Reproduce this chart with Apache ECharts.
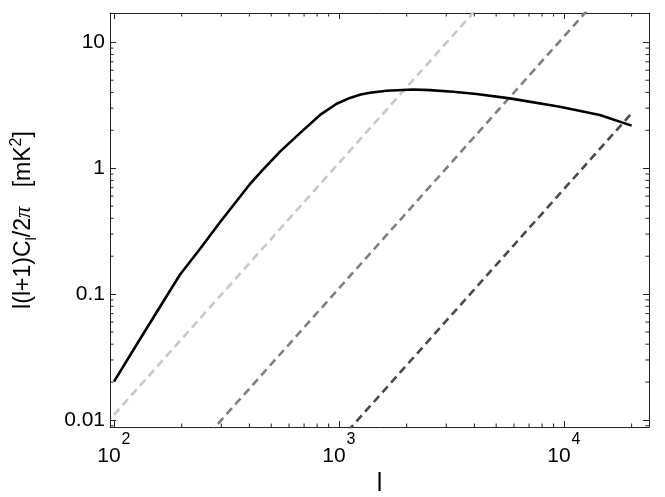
<!DOCTYPE html>
<html>
<head>
<meta charset="utf-8">
<script src="https://cdn.jsdelivr.net/npm/echarts/dist/echarts.min.js"></script>
<style>
  html, body { margin: 0; padding: 0; background: #fff; }
  #chart { width: 665px; height: 497px; }
</style>
</head>
<body>
<div id="chart"></div>
<script>
// solid curve: multipole l and l(l+1)C_l/2pi [mK^2]
var signalL = [100, 130, 196, 241, 296, 400, 453, 547, 671, 824, 977, 1119, 1250, 1374, 1629, 2138, 2535, 3220, 4090, 5750, 9590, 14450, 20000];
var signalV = [0.0202, 0.0434, 0.142, 0.228, 0.372, 0.74, 0.95, 1.355, 1.90, 2.65, 3.25, 3.62, 3.85, 3.98, 4.13, 4.22, 4.17, 4.05, 3.89, 3.59, 3.08, 2.65, 2.18];
// dashed noise lines (straight in log-log), end points
var noiseL = [100, 20000];
var noiseLight = [0.011, 440];
var noiseMid = [0.00111, 44.4];
var noiseDark = [0.000068, 2.73];
// ticks
var xMinor = [200, 300, 400, 500, 600, 700, 800, 900, 2000, 3000, 4000, 5000, 6000, 7000, 8000, 9000, 20000];
var yMinor = [0.009, 0.02, 0.03, 0.04, 0.05, 0.06, 0.07, 0.08, 0.09, 0.2, 0.3, 0.4, 0.5, 0.6, 0.7, 0.8, 0.9, 2, 3, 4, 5, 6, 7, 8, 9];
var yLabels = {'-2': '0.01', '-1': '0.1', '0': '1', '1': '10'};

var xMin = 96, xMax = 23900, yMin = 0.0088, yMax = 17.1;

function pairs(xs, ys) {
    var out = [];
    for (var i = 0; i < xs.length; i++) out.push([xs[i], ys[i]]);
    return out;
}
function decade(v) {
    var e = Math.log(v) / Math.LN10;
    var r = Math.round(e);
    return Math.abs(e - r) < 1e-6 ? r : null;
}

var font = 'Liberation Sans, Arial, Helvetica, sans-serif';
var axisCol = '#222';

function minorTicks(isX) {
    return {
        type: 'custom',
        silent: true,
        clip: false,
        z: 5,
        data: isX ? xMinor.map(function (v) { return [v, 1]; }) : yMinor.map(function (v) { return [1000, v]; }),
        renderItem: function (params, api) {
            var cs = params.coordSys;
            var p = api.coord([api.value(0), api.value(1)]);
            var st = { stroke: axisCol, lineWidth: 1 };
            var len = 3.5;
            if (isX) {
                var b = cs.y + cs.height, t = cs.y;
                return { type: 'group', children: [
                    { type: 'line', shape: { x1: p[0], y1: b, x2: p[0], y2: b - len }, style: st },
                    { type: 'line', shape: { x1: p[0], y1: t, x2: p[0], y2: t + len }, style: st }
                ]};
            }
            var l = cs.x, r = cs.x + cs.width;
            return { type: 'group', children: [
                { type: 'line', shape: { x1: l, y1: p[1], x2: l + len, y2: p[1] }, style: st },
                { type: 'line', shape: { x1: r, y1: p[1], x2: r - len, y2: p[1] }, style: st }
            ]};
        }
    };
}

function dashed(data, color) {
    return {
        type: 'line', data: pairs(noiseL, data), showSymbol: false, clip: true, silent: true,
        lineStyle: { color: color, width: 2.6, type: [8, 5] }, z: 2
    };
}

var baseAxis = {
    type: 'log', logBase: 10,
    axisLine: { show: true, onZero: false, lineStyle: { color: axisCol, width: 1 } },
    axisTick: { show: true, inside: true, length: 6, lineStyle: { color: axisCol } },
    splitLine: { show: false },
    minorTick: { show: false }
};

var option = {
    animation: false,
    backgroundColor: '#fff',
    grid: { left: 110, top: 13, right: 16, bottom: 70, containLabel: false, outerBoundsMode: 'none' },
    xAxis: [
        Object.assign({}, baseAxis, {
            min: xMin, max: xMax, position: 'bottom',
            name: 'l', nameLocation: 'middle', nameGap: 38,
            nameTextStyle: { fontFamily: font, fontSize: 25, color: '#000' },
            axisLabel: {
                margin: 6, color: '#000', fontFamily: font,
                showMinLabel: false, showMaxLabel: false,
                formatter: function (v) {
                    var d = decade(v);
                    // exponent on its own short line, pushed right; base below
                    return d === null ? '' : '{s|' + d + '}\n{b|10}';
                },
                rich: {
                    s: { fontSize: 16, fontFamily: font, color: '#000', lineHeight: 13, align: 'center', padding: [0, 0, 0, 24] },
                    b: { fontSize: 21, fontFamily: font, color: '#000', lineHeight: 20, align: 'center', padding: [0, 10, 0, 0] }
                }
            }
        }),
        Object.assign({}, baseAxis, {
            min: xMin, max: xMax, position: 'top', axisLabel: { show: false }
        })
    ],
    yAxis: [
        Object.assign({}, baseAxis, {
            min: yMin, max: yMax, position: 'left',
            name: 'l(l+1)C{sub|l}/2{pi|π}   [mK{sup|2}]', nameLocation: 'middle', nameGap: 71, nameRotate: 90,
            nameTextStyle: {
                fontFamily: font, fontSize: 23, color: '#000',
                rich: {
                    sub: { fontSize: 15, fontFamily: font, color: '#000', lineHeight: 30, verticalAlign: 'bottom' },
                    pi: { fontSize: 23, fontFamily: 'Liberation Serif, serif', fontStyle: 'italic', color: '#000', lineHeight: 30 },
                    sup: { fontSize: 16, fontFamily: font, color: '#000', lineHeight: 30, verticalAlign: 'top' }
                }
            },
            axisLabel: {
                margin: 5, color: '#000', fontFamily: font, fontSize: 21,
                showMinLabel: false, showMaxLabel: false,
                formatter: function (v) {
                    var d = decade(v);
                    return d === null ? '' : (yLabels[String(d)] || '');
                }
            }
        }),
        Object.assign({}, baseAxis, {
            min: yMin, max: yMax, position: 'right', axisLabel: { show: false }
        })
    ],
    series: [
        dashed(noiseLight, '#c8c8c8'),
        dashed(noiseMid, '#808080'),
        dashed(noiseDark, '#4a4a4a'),
        {
            type: 'line', data: pairs(signalL, signalV), showSymbol: false, smooth: false,
            clip: true, silent: true,
            lineStyle: { color: '#000', width: 2.6, join: 'round' }, z: 3
        },
        minorTicks(true),
        minorTicks(false)
    ]
};

var chart = echarts.init(document.getElementById('chart'), null, { renderer: 'canvas' });
chart.setOption(option);
</script>
</body>
</html>
